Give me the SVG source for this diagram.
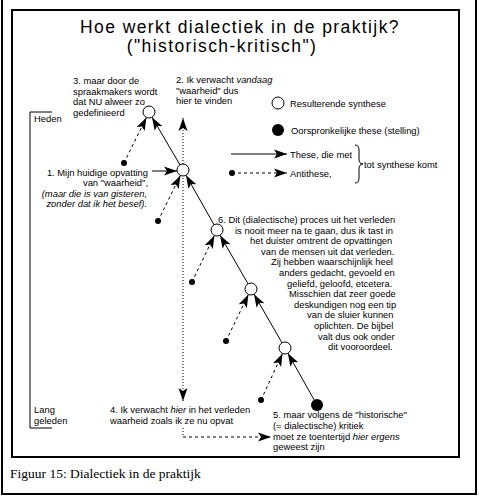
<svg xmlns="http://www.w3.org/2000/svg" width="479" height="497" viewBox="0 0 479 497">
<style>
text { font-family: "Liberation Sans", Arial, sans-serif; font-size: 9.4px; fill: #000; }
.title { font-size: 17.5px; letter-spacing: 1.4px; }
.cap { font-family: "Liberation Serif", "Times New Roman", serif; font-size: 13.5px; }
.it { font-style: italic; }
.frame { fill: none; stroke: #000; stroke-width: 2; }
.thin { fill: none; stroke: #000; stroke-width: 1; }
.these { fill: none; stroke: #000; stroke-width: 1; marker-end: url(#ah); }
.anti { fill: none; stroke: #000; stroke-width: 1; stroke-dasharray: 3 3; marker-end: url(#ah); }
.dotted { fill: none; stroke: #000; stroke-width: 1; stroke-dasharray: 1 2; }
.dashed { fill: none; stroke: #000; stroke-width: 1; stroke-dasharray: 3 3; }
.syn { fill: #fff; stroke: #000; stroke-width: 1; }
.orig { fill: #000; }
</style>
<defs>
<marker id="ah" markerUnits="userSpaceOnUse" viewBox="-14 -6 15 12" refX="0" refY="0" markerWidth="15" markerHeight="12" orient="auto-start-reverse">
<path d="M0,0 L-13,-4.5 L-10,0 L-13,4.5 Z" fill="#000"/>
</marker>
</defs>
<rect x="0" y="0" width="479" height="497" fill="#fff"/>
<g id="frames">
<rect class="frame" x="2" y="-5" width="474" height="499"/>
<rect class="frame" x="12" y="10" width="447" height="447"/>
</g>
<g id="title">
<text class="title" x="240" y="32.5" text-anchor="middle">Hoe werkt dialectiek in de praktijk?</text>
<text class="title" x="222" y="52" text-anchor="middle">("historisch-kritisch")</text>
</g>
<g id="timeline">
<path class="thin" d="M52,112 H30 V428 H52"/>
<text x="34" y="122">Heden</text>
<text x="34" y="413">Lang</text>
<text x="34" y="423.6">geleden</text>
</g>
<g id="connectors">
<path class="these" d="M317,405 L287.9,353.2"/>
<path class="these" d="M285,348 L254,294.2"/>
<path class="these" d="M251,289 L220,235.2"/>
<path class="these" d="M217,230 L186,175.2"/>
<path class="these" d="M183,170 L152,117.2"/>
<path class="anti" d="M124,163 L146.4,117.4"/>
<path class="anti" d="M158,221 L180.4,175.4"/>
<path class="anti" d="M192,282 L214.4,235.4"/>
<path class="anti" d="M226,341 L248.4,294.4"/>
<path class="anti" d="M261,400 L282.5,353.4"/>
<path class="these" d="M152,171 L177,171"/>
<path class="dotted" d="M183,401 V118" style="marker-start:url(#ah);marker-end:url(#ah)"/>
<path class="dotted" d="M183,428 V437"/>
<path class="dashed" d="M183,437 H271" style="marker-end:url(#ah)"/>
</g>
<g id="node-3"><circle class="syn" cx="149" cy="112" r="6"/></g>
<g id="node-1"><circle class="syn" cx="183" cy="170" r="6"/></g>
<g id="node-6"><circle class="syn" cx="217" cy="230" r="6"/></g>
<g id="node-s4"><circle class="syn" cx="251" cy="289" r="6"/></g>
<g id="node-s5"><circle class="syn" cx="285" cy="348" r="6"/></g>
<g id="node-5"><circle class="orig" cx="317" cy="405" r="6"/></g>
<g id="antithesis-dots">
<circle class="orig" cx="124" cy="163" r="3"/>
<circle class="orig" cx="158" cy="221" r="3"/>
<circle class="orig" cx="192" cy="282" r="3"/>
<circle class="orig" cx="226" cy="341" r="3"/>
<circle class="orig" cx="261" cy="400" r="3"/>
</g>
<g id="label-3">
<text x="73" y="84">3. maar door de</text>
<text x="73" y="94.6">spraakmakers wordt</text>
<text x="73" y="105.2">dat NU alweer zo</text>
<text x="73" y="115.8">gedefinieerd</text>
</g>
<g id="label-2">
<text x="176" y="83">2. Ik verwacht <tspan class="it">vandaag</tspan></text>
<text x="176" y="93.6">"waarheid" dus</text>
<text x="176" y="104.2">hier te vinden</text>
</g>
<g id="label-1">
<text x="148" y="175.5" text-anchor="end">1. Mijn huidige opvatting</text>
<text x="148" y="186.1" text-anchor="end">van "waarheid",</text>
<text class="it" x="147" y="196.7" text-anchor="end">(maar die is van gisteren,</text>
<text class="it" x="147" y="207.3" text-anchor="end">zonder dat ik het besef).</text>
</g>
<g id="label-6">
<text x="218" y="223">6. Dit (dialectische) proces uit het verleden</text>
<text x="235" y="233.6">is nooit meer na te gaan, dus ik tast in</text>
<text x="250" y="244.2">het duister omtrent de opvattingen</text>
<text x="261" y="254.8">van de mensen uit dat verleden.</text>
<text x="271" y="265.4">Zij hebben waarschijnlijk heel</text>
<text x="279" y="276">anders gedacht, gevoeld en</text>
<text x="287" y="286.6">geliefd, geloofd, etcetera.</text>
<text x="289" y="297.2">Misschien dat zeer goede</text>
<text x="294" y="307.8">deskundigen nog een tip</text>
<text x="307" y="318.4">van de sluier kunnen</text>
<text x="314" y="329">oplichten. De bijbel</text>
<text x="318" y="339.6">valt dus ook onder</text>
<text x="328" y="350.2">dit vooroordeel.</text>
</g>
<g id="label-4">
<text x="110" y="413">4. Ik verwacht <tspan class="it">hier</tspan> in het verleden</text>
<text x="110" y="423.6">waarheid zoals ik ze nu opvat</text>
</g>
<g id="label-5">
<text x="273" y="418.4">5. maar volgens de "historische"</text>
<text x="273" y="429">(= dialectische) kritiek</text>
<text x="273" y="439.6">moet ze toentertijd <tspan class="it">hier ergens</tspan></text>
<text x="273" y="450.2">geweest zijn</text>
</g>
<g id="legend">
<circle class="syn" cx="278" cy="103" r="6"/>
<text x="290" y="106.5">Resulterende synthese</text>
<circle class="orig" cx="278" cy="130" r="6"/>
<text x="291" y="133.5">Oorspronkelijke these (stelling)</text>
<path class="these" d="M231,154 H287"/>
<text x="290" y="157.5">These, die met</text>
<circle class="orig" cx="232" cy="173" r="3"/>
<path class="anti" d="M232,173 H287"/>
<text x="290" y="176.5">Antithese,</text>
<path class="thin" d="M355,145 Q359,145 359,150 V159 Q359,164 363,164 Q359,164 359,169 V178 Q359,183 355,183"/>
<text x="364" y="167.5">tot synthese komt</text>
</g>
<text class="cap" x="10" y="478">Figuur 15: Dialectiek in de praktijk</text>
</svg>
